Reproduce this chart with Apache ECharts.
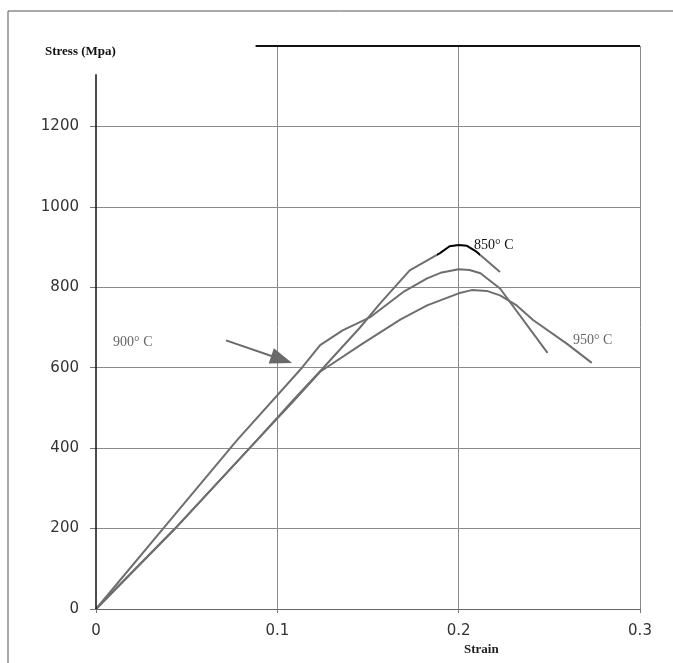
<!DOCTYPE html>
<html>
<head>
<meta charset="utf-8">
<script src="https://cdn.jsdelivr.net/npm/echarts@6/dist/echarts.min.js"></script>
<style>
html,body{margin:0;padding:0;background:#fff;}
#chart{width:673px;height:663px;}
</style>
</head>
<body>
<div id="chart"></div>
<script>
// ---- data ----
const xTicks = [0, 0.1, 0.2, 0.3];
const yTicks = [0, 200, 400, 600, 800, 1000, 1200];

const strain850 = [0, 0.0436, 0.0888, 0.1087, 0.125, 0.1456, 0.1567, 0.173, 0.1897, 0.195, 0.2, 0.2046, 0.21, 0.2228];
const stress850 = [0, 200, 420, 519, 598, 700, 760, 842, 885, 902, 905, 903, 888, 838];

const strain900 = [0, 0.037, 0.0778, 0.1136, 0.1236, 0.136, 0.151, 0.17, 0.1826, 0.19, 0.2, 0.206, 0.212, 0.2228, 0.249];
const stress900 = [0, 200, 420, 600, 656, 693, 725, 790, 822, 836, 845, 843, 835, 797, 637];

const strain950 = [0, 0.0436, 0.0888, 0.1087, 0.1236, 0.147, 0.168, 0.1826, 0.2, 0.2072, 0.2155, 0.2228, 0.232, 0.2412, 0.2596, 0.2734];
const stress950 = [0, 200, 420, 516, 590, 660, 720, 755, 785, 793, 791, 780, 755, 718, 660, 612];

const seriesNames = ['850° C', '900° C', '950° C'];

function pairs(xs, ys) { return xs.map((x, i) => [x, ys[i]]); }

const curveColor = '#6e6e6e';
const serif = 'Liberation Serif';

const chart = echarts.init(document.getElementById('chart'), null, {renderer: 'canvas'});

const option = {
  animation: false,
  backgroundColor: '#fff',
  grid: {left: 96, right: 33, top: 46, bottom: 54, containLabel: false},
  xAxis: {
    type: 'value',
    min: xTicks[0], max: xTicks[xTicks.length - 1], interval: 0.1,
    axisLine: {show: true, lineStyle: {color: '#666', width: 1}},
    axisTick: {show: true, length: 4, lineStyle: {color: '#777'}},
    axisLabel: {
      margin: 15, color: '#333', fontFamily: 'DejaVu Sans', fontSize: 15,
      formatter: v => String(Math.round(v * 10) / 10)
    },
    splitLine: {show: true, showMinLine: false, showMaxLine: true, lineStyle: {color: '#8a8a8a', width: 1}}
  },
  yAxis: {
    type: 'value',
    min: yTicks[0], max: 1400, interval: 200,
    axisLine: {show: false},
    axisTick: {show: true, length: 6, lineStyle: {color: '#777'}},
    axisLabel: {
      margin: 17, color: '#333', fontFamily: 'DejaVu Sans', fontSize: 15,
      showMaxLabel: false,
      formatter: v => String(v)
    },
    splitLine: {show: true, showMinLine: false, showMaxLine: false, lineStyle: {color: '#8a8a8a', width: 1}}
  },
  visualMap: {
    show: false,
    type: 'piecewise',
    seriesIndex: 0,
    dimension: 0,
    pieces: [
      {lte: 0.188, color: curveColor},
      {gt: 0.188, lte: 0.2115, color: '#000'},
      {gt: 0.2115, color: curveColor}
    ]
  },
  graphic: [
    {type: 'line', shape: {x1: 8, y1: 11, x2: 673, y2: 11}, style: {stroke: '#555', lineWidth: 1}, silent: true},
    {type: 'line', shape: {x1: 8, y1: 11, x2: 8, y2: 663}, style: {stroke: '#555', lineWidth: 1}, silent: true},
    {type: 'text', left: 45, top: 45, style: {text: 'Stress (Mpa)', font: 'bold 13px "Liberation Serif"', fill: '#111'}, silent: true},
    {type: 'text', left: 464, top: 643, style: {text: 'Strain', font: 'bold 13px "Liberation Serif"', fill: '#222'}, silent: true}
  ],
  series: [
    {
      name: seriesNames[0], type: 'line', data: pairs(strain850, stress850),
      showSymbol: false, smooth: false,
      lineStyle: {width: 2},
      markPoint: {
        silent: true, symbol: 'circle', symbolSize: 0,
        label: {show: true, position: 'right', distance: 0, formatter: '{b}', color: '#111', fontFamily: serif, fontSize: 14},
        data: [{name: seriesNames[0], coord: [0.2085, 904]}]
      }
    },
    {
      name: seriesNames[1], type: 'line', data: pairs(strain900, stress900),
      showSymbol: false, smooth: false,
      lineStyle: {width: 2, color: curveColor},
      markPoint: {
        silent: true, symbol: 'circle', symbolSize: 0,
        label: {show: true, position: 'right', distance: 0, formatter: '{b}', color: '#666', fontFamily: serif, fontSize: 14},
        data: [{name: seriesNames[1], coord: [0.0094, 663]}]
      }
    },
    {
      name: seriesNames[2], type: 'line', data: pairs(strain950, stress950),
      showSymbol: false, smooth: false,
      lineStyle: {width: 2, color: curveColor},
      markPoint: {
        silent: true, symbol: 'circle', symbolSize: 0,
        label: {show: true, position: 'right', distance: 0, formatter: '{b}', color: '#666', fontFamily: serif, fontSize: 14},
        data: [{name: seriesNames[2], coord: [0.263, 668]}]
      },
      markLine: {
        silent: true, symbol: ['none', 'none'],
        label: {show: false},
        data: [
          [{coord: [0, 0], lineStyle: {color: '#111', width: 1.5, type: 'solid'}}, {coord: [0, 1330]}],
          [{coord: [0.088, 1400], lineStyle: {color: '#111', width: 2, type: 'solid'}}, {coord: [0.3, 1400]}],
          [{coord: [0.0717, 668], lineStyle: {color: '#6a6a6a', width: 2, type: 'solid'}},
           {coord: [0.1024, 620.6], symbol: 'triangle', symbolSize: [16, 22]}]
        ]
      }
    }
  ]
};
chart.setOption(option);
</script>
</body>
</html>
